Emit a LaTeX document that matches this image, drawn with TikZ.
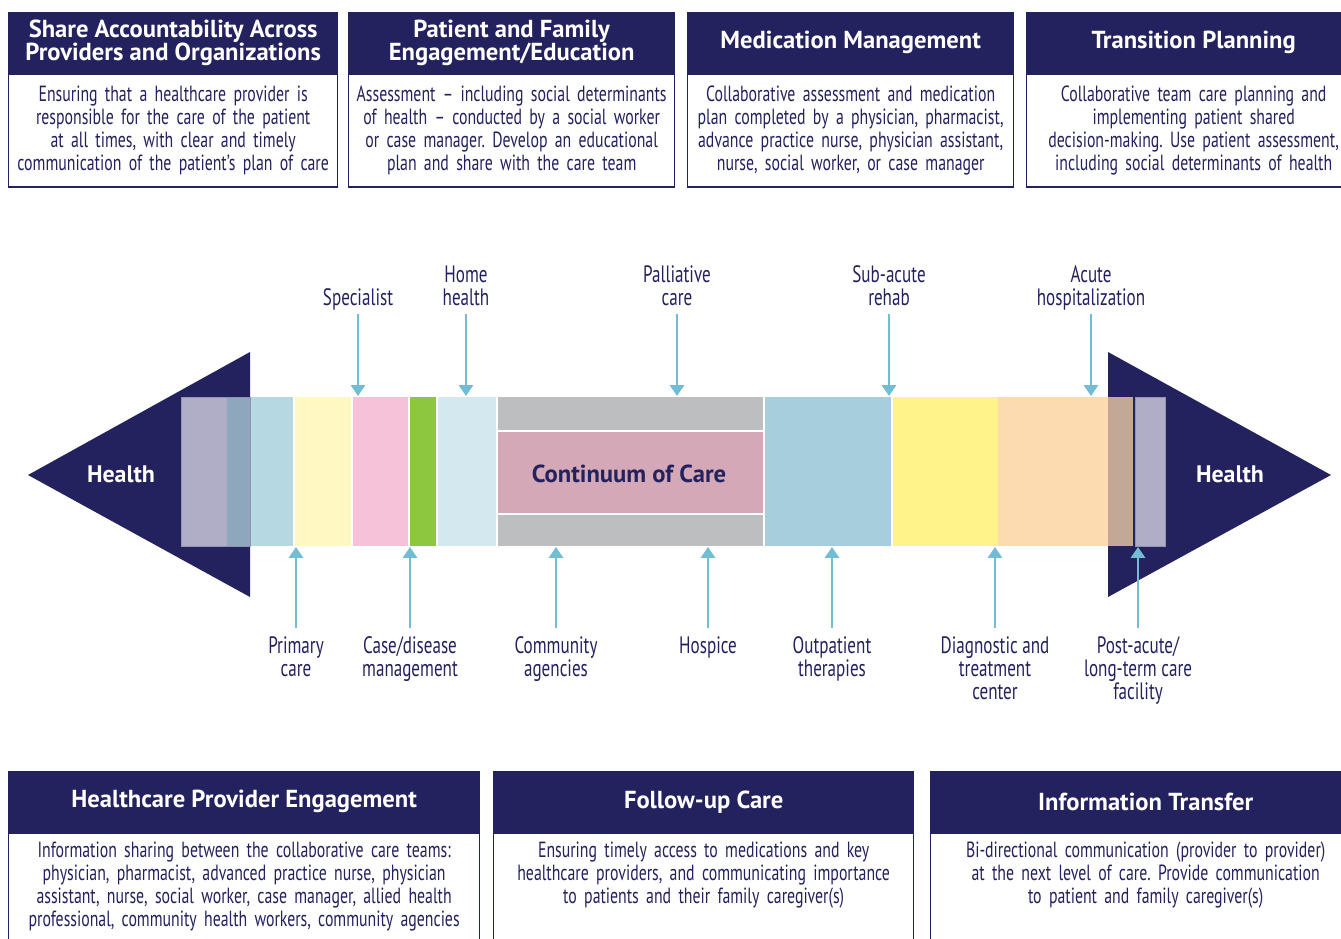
\documentclass[tikz,border=0pt]{standalone}
\usepackage{fontspec}
\setmainfont{PT Sans}
\newfontfamily\narrowsans[FakeStretch=0.72]{PT Sans}
\usetikzlibrary{arrows.meta}

\definecolor{navy}{HTML}{24215F}
\definecolor{lavnavy}{HTML}{B0AEC6}
\definecolor{bluenavy}{HTML}{8FA7BC}
\definecolor{lightblue}{HTML}{B5D8E3}
\definecolor{paleyellow}{HTML}{FFF8C2}
\definecolor{softpink}{HTML}{F6C2DA}
\definecolor{leafgreen}{HTML}{8DC63F}
\definecolor{paleblue}{HTML}{D4E8EF}
\definecolor{midgray}{HTML}{BDBEC0}
\definecolor{mauve}{HTML}{D4A8B6}
\definecolor{skyblue}{HTML}{A7CEDD}
\definecolor{brightyellow}{HTML}{FFF38A}
\definecolor{peach}{HTML}{FCDBB0}
\definecolor{peachnavy}{HTML}{C3A797}
\definecolor{arrowblue}{HTML}{72BDD4}

\begin{document}
\frenchspacing
\begin{tikzpicture}[x=0.02cm,y=-0.02cm,
	head/.style={fill=navy,draw=navy,line width=0.8pt,text=white,
		font=\bfseries\fontsize{14}{13}\selectfont,align=center,
		anchor=north west,minimum height=1.2cm,inner sep=0pt},
	body/.style={draw=navy,line width=0.8pt,text=navy,fill=white,
		font=\narrowsans\fontsize{12.5}{13.1}\selectfont,align=center,
		anchor=north,inner xsep=0pt,inner ysep=5pt},
	lbl/.style={text=navy,font=\narrowsans\fontsize{13.5}{13.3}\selectfont,
		align=center,inner xsep=1pt},
	feed/.style={draw=arrowblue,line width=1.6pt,
		-{Triangle[width=8pt,length=6.2pt]}},
	health/.style={text=white,font=\bfseries\fontsize{13.6}{15}\selectfont}]

	\useasboundingbox (0,0) rectangle (1341,939);
	\clip (0,0) rectangle (1341,939);

	% top row of boxes
	\node[head,minimum width=6.58cm] (h1) at (8,12) {Share Accountability Across\\Providers and Organizations};
	\node[body,text width=6.58cm,minimum height=2.26cm] (b1) at (h1.south) {Ensuring that a healthcare provider is\\responsible for the care of the patient\\at all times, with clear and timely\\communication of the patient’s plan of care};

	\node[head,minimum width=6.52cm] (h2) at (348,12) {Patient and Family\\Engagement/Education};
	\node[body,text width=6.52cm,minimum height=2.26cm] (b2) at (h2.south) {Assessment – including social determinants\\of health – conducted by a social worker\\or case manager. Develop an educational\\plan and share with the care team};

	\node[head,minimum width=6.52cm] (h3) at (687,12) {Medication Management};
	\node[body,text width=6.52cm,minimum height=2.26cm] (b3) at (h3.south) {Collaborative assessment and medication\\plan completed by a physician, pharmacist,\\advance practice nurse, physician assistant,\\nurse, social worker, or case manager};

	\node[head,minimum width=6.68cm] (h4) at (1026,12) {Transition Planning};
	\node[body,text width=6.36cm,minimum height=2.26cm,inner xsep=0.16cm] (b4) at (h4.south) {Collaborative team care planning and\\implementing patient shared\\decision-making. Use patient assessment,\\including social determinants of health};

	% the two arrow heads
	\fill[navy] (250,352) -- (28,475) -- (250,597) -- cycle;
	\fill[navy] (1108,352) -- (1331,475) -- (1108,597) -- cycle;

	% bands of the continuum
	\fill[lavnavy] (181,397) rectangle (227,546);
	\fill[lightblue] (227,397) rectangle (293,546);
	\fill[bluenavy] (227,397) rectangle (250,546);
	\draw[lavnavy!80!navy,line width=0.4pt] (181,397) rectangle (250,546);
	\fill[paleyellow] (295,397) rectangle (351,546);
	\fill[softpink] (353,397) rectangle (408,546);
	\fill[leafgreen] (410,397) rectangle (436,546);
	\fill[paleblue] (438,397) rectangle (496,546);
	\fill[midgray] (498,397) rectangle (763,430);
	\fill[mauve] (498,432) rectangle (763,513);
	\fill[midgray] (498,515) rectangle (763,546);
	\fill[skyblue] (765,397) rectangle (891,546);
	\fill[brightyellow] (893,397) rectangle (998,546);
	\fill[peach] (998,397) rectangle (1133,546);
	\fill[peachnavy] (1108,397) rectangle (1133,546);
	\fill[lavnavy] (1135,397) rectangle (1165,546);
	\draw[lavnavy!80!navy,line width=0.4pt] (1135,397) rectangle (1165,546);

	\node[health] (hl) at (121,474) {Health};
	\node[health] (hr) at (1230,474) {Health};
	\node[text=navy,font=\bfseries\fontsize{14}{15}\selectfont] (coc) at (629,474) {Continuum of Care};

	% settings above the bar
	\foreach \x/\n/\t in {358/spec/{Specialist},466/home/{Home\\health},
		677/pall/{Palliative\\care},889/subac/{Sub-acute\\rehab},
		1091/acute/{Acute\\hospitalization}}{
		\node[lbl,anchor=south,inner ysep=2pt,text depth=0.25em] (\n) at (\x,314) {\t};
		\coordinate (\n-in) at (\x,396);
		\draw[feed] (\n) -- (\n-in);
	}

	% settings below the bar
	\foreach \x/\n/\t in {296/prim/{Primary\\care},410/case/{Case/disease\\management},
		556/comm/{Community\\agencies},708/hosp/{Hospice},
		832/outp/{Outpatient\\therapies},995/diag/{Diagnostic and\\treatment\\center},
		1138/post/{Post-acute/\\long-term care\\facility}}{
		\node[lbl,anchor=north,inner ysep=4.5pt] (\n) at (\x,628) {\t};
		\coordinate (\n-in) at (\x,547);
		\draw[feed] (\n) -- (\n-in);
	}

	% bottom row of boxes
	\node[head,minimum width=9.42cm] (h5) at (8,771) {Healthcare Provider Engagement};
	\node[body,text width=9.42cm,text depth=3cm] (b5) at (h5.south) {Information sharing between the collaborative care teams:\\physician, pharmacist, advanced practice nurse, physician\\assistant, nurse, social worker, case manager, allied health\\professional, community health workers, community agencies};

	\node[head,minimum width=8.4cm] (h6) at (493,771) {Follow-up Care};
	\node[body,text width=8.4cm,text depth=3cm] (b6) at (h6.south) {Ensuring timely access to medications and key\\healthcare providers, and communicating importance\\to patients and their family caregiver(s)};

	\node[head,minimum width=8.6cm] (h7) at (930,771) {Information Transfer};
	\node[body,text width=8.2cm,text depth=3cm,inner xsep=0.2cm] (b7) at (h7.south) {Bi-directional communication (provider to provider)\\at the next level of care. Provide communication\\to patient and family caregiver(s)};
\end{tikzpicture}
\end{document}
